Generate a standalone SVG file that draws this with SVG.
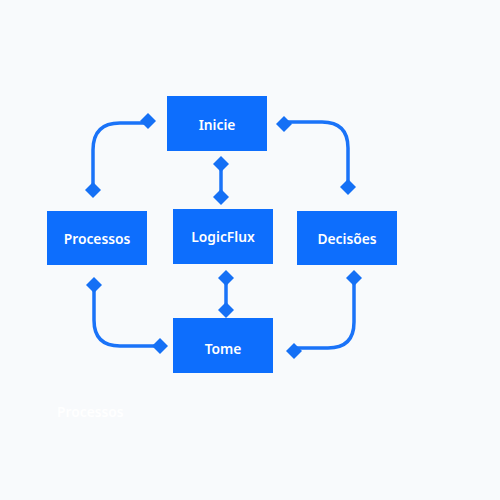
<svg xmlns="http://www.w3.org/2000/svg" width="500" height="500" viewBox="0 0 500 500">
<defs>
<style>
.node rect{fill:#0d6efd;}
.node text,.ghost{fill:#ffffff;font-family:"Noto Sans","Inter",sans-serif;font-weight:600;font-size:13.8px;text-anchor:middle;dominant-baseline:central;}
.ghost{text-anchor:start;}
.edge{fill:none;stroke:#1a73f8;stroke-width:3.5;stroke-linecap:round;}
.dm{fill:#1570f5;}
</style>
<path id="d" d="M0,-8 L8,0 L0,8 L-8,0 Z"/>
</defs>
<rect width="500" height="500" fill="#f8fafc"/>
<g id="connectors">
<path class="edge" d="M148,123 H120 Q93,123 93,150 V190"/>
<path class="edge" d="M284,122 H322 Q348,122 348,148 V187"/>
<path class="edge" d="M221,164 V197"/>
<path class="edge" d="M226,278 V310"/>
<path class="edge" d="M94,285 V320 Q94,346 120,346 H160"/>
<path class="edge" d="M354,278 V322 Q354,348 328,348 H294"/>
<use href="#d" class="dm" x="148" y="121"/>
<use href="#d" class="dm" x="93" y="190"/>
<use href="#d" class="dm" x="284" y="124"/>
<use href="#d" class="dm" x="348" y="187"/>
<use href="#d" class="dm" x="221" y="164"/>
<use href="#d" class="dm" x="221" y="197"/>
<use href="#d" class="dm" x="226" y="278"/>
<use href="#d" class="dm" x="226" y="310"/>
<use href="#d" class="dm" x="94" y="285"/>
<use href="#d" class="dm" x="160" y="346"/>
<use href="#d" class="dm" x="354" y="278"/>
<use href="#d" class="dm" x="294" y="351"/>
</g>
<g id="inicie" class="node"><rect x="167" y="96" width="100" height="55"/><text x="217" y="124">Inicie</text></g>
<g id="processos" class="node"><rect x="47" y="211" width="100" height="54"/><text x="97" y="238">Processos</text></g>
<g id="logicflux" class="node"><rect x="173" y="209" width="100" height="55"/><text x="223" y="236.5">LogicFlux</text></g>
<g id="decisoes" class="node"><rect x="297" y="211" width="100" height="54"/><text x="347" y="238">Decisões</text></g>
<g id="tome" class="node"><rect x="173" y="318" width="100" height="55"/><text x="223" y="348">Tome</text></g>
<text class="ghost" x="57" y="411">Processos</text>
</svg>
